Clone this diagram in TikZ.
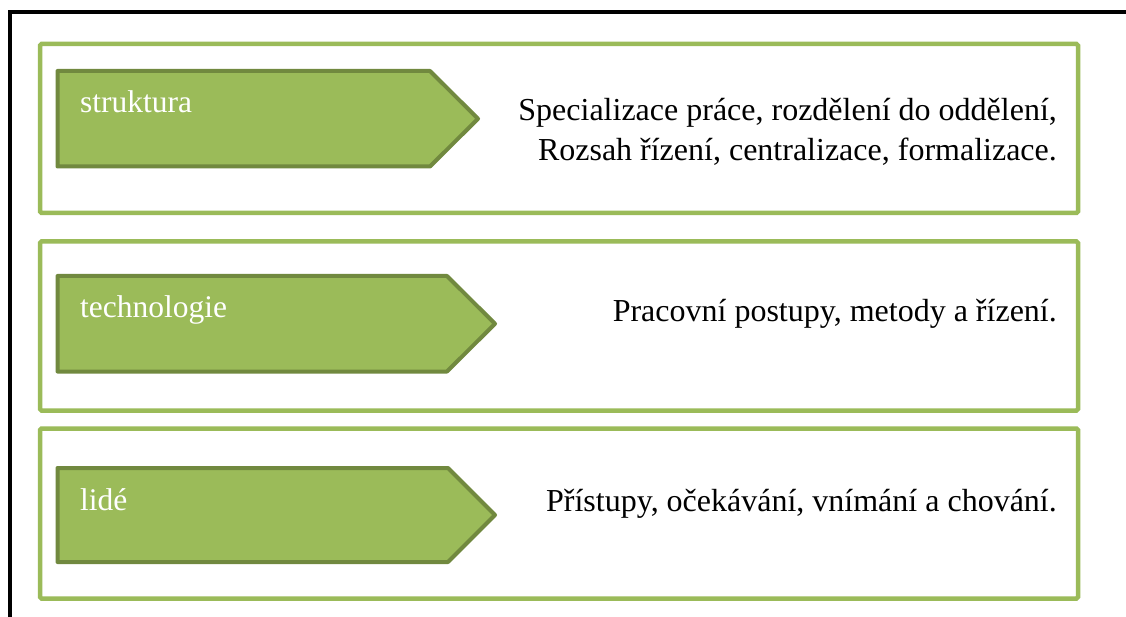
\documentclass[tikz,border=0pt]{standalone}
\usepackage{fontspec}
\setmainfont{Liberation Serif}
\definecolor{boxgreen}{HTML}{9BBB59}
\definecolor{edgegreen}{HTML}{71893F}
\tikzset{
  panel/.style={draw=boxgreen, line width=4.5pt, rounded corners=1.5pt},
  tag/.style={fill=boxgreen, draw=edgegreen, line width=4pt, line join=round},
  taglabel/.style={anchor=base west, inner sep=0pt, text=white,
    font=\fontsize{31.5}{38}\selectfont},
  desc/.style={anchor=base east, inner sep=0pt, align=right, text=black,
    font=\fontsize{32}{40}\selectfont},
}
\begin{document}
\begin{tikzpicture}[x=1pt, y=-1pt]
\useasboundingbox (0,0) rectangle (1126,617);
\clip (0,0) rectangle (1126,617);
\fill[white] (0,0) rectangle (1126,617);
% outer black frame
\draw[line width=4.5pt, line join=miter] (10,640) -- (10,12) -- (1150,12);

% three category panels
\draw[panel] (40,44) rectangle (1078,213);
\draw[panel] (40,241.5) rectangle (1078,410.5);
\draw[panel] (40,428.5) rectangle (1078,598.5);

% pointer-shaped tags
\draw[tag] (57.5,71) -- (430,71) -- (478,118.75) -- (430,166.5) -- (57.5,166.5) -- cycle;
\draw[tag] (57.5,276) -- (447,276) -- (495,323.75) -- (447,371.5) -- (57.5,371.5) -- cycle;
\draw[tag] (57.5,468) -- (448,468) -- (495,515) -- (448,562) -- (57.5,562) -- cycle;

% tag labels
\node[taglabel] (struktura) at (80,113) {struktura};
\node[taglabel] (technologie) at (80,318) {technologie};
\node[taglabel] (lide) at (80,510) {lidé};

% descriptions (base anchor sits on the last line)
\node[desc] (d1) at (1057,160.7) {Specializace práce, rozdělení do oddělení,\\Rozsah řízení, centralizace, formalizace.};
\node[desc] (d2) at (1057,321.7) {Pracovní postupy, metody a řízení.};
\node[desc] (d3) at (1057,511) {Přístupy, očekávání, vnímání a chování.};
\end{tikzpicture}
\end{document}
